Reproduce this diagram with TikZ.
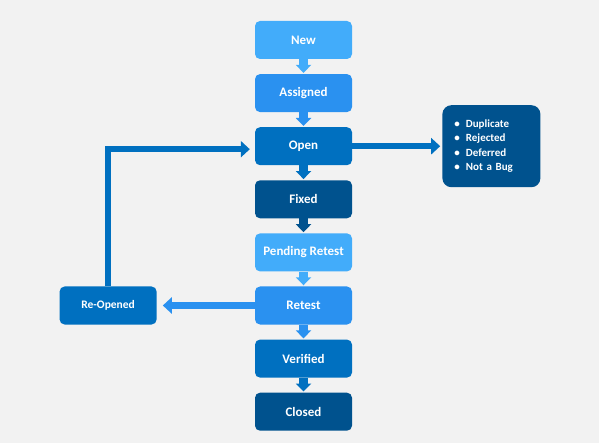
\documentclass[tikz,border=0pt]{standalone}
\usepackage{fontspec}
\setmainfont{Carlito}
\usetikzlibrary{positioning,arrows.meta}
\definecolor{bggray}{RGB}{242,242,242}
\definecolor{lightblue}{RGB}{66,172,250}
\definecolor{midblue}{RGB}{42,145,240}
\definecolor{stateblue}{RGB}{0,112,192}
\definecolor{darkblue}{RGB}{0,82,142}
\tikzstyle{state} = [rounded corners=5pt,minimum width=97pt,minimum height=38pt,inner sep=2pt,text=white,font=\bfseries\fontsize{13}{15}\selectfont]
\tikzstyle{down} = [line width=9pt,-{Triangle[length=8pt,width=15pt]}]
\tikzstyle{link} = [line width=6.5pt,-{Triangle[length=9pt,width=16pt]}]

\begin{document}
\begin{tikzpicture}[node distance=14.7pt]
  \fill[bggray] (0,0) rectangle (599pt,-443pt);
  \useasboundingbox (0,0) rectangle (599pt,-443pt);
  \node[state,fill=lightblue] (new) at (303.5pt,-40pt) {New};
  \node[state,fill=midblue,below=of new] (assigned) {Assigned};
  \node[state,fill=stateblue,below=of assigned] (open) {Open};
  \node[state,fill=darkblue,below=of open] (fixed) {Fixed};
  \node[state,fill=lightblue,below=of fixed] (pending) {Pending Retest};
  \node[state,fill=midblue,below=of pending] (retest) {Retest};
  \node[state,fill=stateblue,below=of retest] (verified) {Verified};
  \node[state,fill=darkblue,below=of verified] (closed) {Closed};
  \node[state,fill=stateblue,left=98pt of retest,font=\bfseries\fontsize{11.5}{13}\selectfont] (reopened) {Re-Opened};
  \node[state,fill=darkblue,right=90pt of open,rounded corners=9pt,text width=74pt,inner xsep=12pt,minimum width=98pt,minimum height=82pt,align=left,font=\bfseries\fontsize{11}{14.5}\selectfont] (rejected)
    {\textbullet\hspace{6pt}Duplicate\\ \textbullet\hspace{6pt}Rejected\\ \textbullet\hspace{6pt}Deferred\\ \textbullet\hspace{6pt}Not a Bug};
  \draw[down,lightblue] (new.south) -- ([yshift=1pt]assigned.north);
  \draw[down,midblue] (assigned.south) -- ([yshift=1pt]open.north);
  \draw[down,stateblue] (open.south) -- ([yshift=1pt]fixed.north);
  \draw[down,darkblue] (fixed.south) -- ([yshift=1pt]pending.north);
  \draw[down,lightblue] (pending.south) -- ([yshift=1pt]retest.north);
  \draw[down,midblue] (retest.south) -- ([yshift=1pt]verified.north);
  \draw[down,stateblue] (verified.south) -- ([yshift=1pt]closed.north);
  \draw[link,midblue,shorten >=6pt] (retest.west) -- (reopened.east);
  \draw[link,stateblue,shorten >=5pt] (reopened.north) |- ([yshift=-3pt]open.west);
  \draw[link,stateblue,shorten >=2pt] (open.east) -- (rejected.west);
\end{tikzpicture}
\end{document}
